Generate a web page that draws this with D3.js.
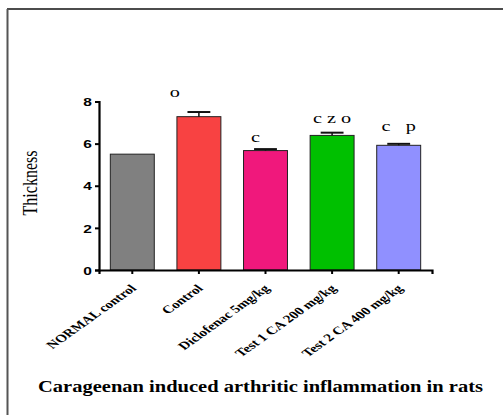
<!DOCTYPE html>
<html>
<head>
<meta charset="utf-8">
<script src="https://cdn.jsdelivr.net/npm/d3@7"></script>
<style>
  body { margin: 0; background: #fff; }
  svg { display: block; }
</style>
</head>
<body>
<svg id="chart"></svg>
<script>
// data
const groups = ["NORMAL control", "Control", "Diclofenac 5mg/kg", "Test 1 CA 200 mg/kg", "Test 2 CA 400 mg/kg"];
const means = [5.5, 7.28, 5.67, 6.39, 5.92];
const sems = [0, 0.22, 0.07, 0.13, 0.07];
const marks = ["", "o", "c", "c z o", "c   p"];
const colors = ["#808080", "#f84242", "#f0187c", "#00c000", "#9090ff"];
const yTicks = [0, 2, 4, 6, 8];

const W = 503, H = 415;
const margin = {top: 101.5, right: 71, bottom: 145, left: 99};
const width = W - margin.left - margin.right,
  height = H - margin.top - margin.bottom;
const SX = 1.35; // the source figure is stretched sideways, so is its text

const serif = "'Liberation Serif', 'Times New Roman', serif";

const svg = d3.select("#chart").attr("width", W).attr("height", H);

// frame lines (top + left only, like the source image)
svg.append("line").attr("x1", 7).attr("x2", W).attr("y1", 9).attr("y2", 9)
  .attr("stroke", "#111").attr("stroke-width", 1.5);
svg.append("line").attr("x1", 7.5).attr("x2", 7.5).attr("y1", 9).attr("y2", H)
  .attr("stroke", "#555").attr("stroke-width", 2);

const g = svg.append("g")
  .attr("transform", "translate(" + margin.left + "," + margin.top + ")");

const x = d3.scaleBand()
  .domain(groups)
  .range([0, width])
  .paddingInner(0.34)
  .paddingOuter(0.17);

const y = d3.scaleLinear()
  .domain([0, 8])
  .range([height, 0]);

// bars
g.selectAll("rect.bar")
  .data(groups)
  .enter()
  .append("rect")
    .attr("class", "bar")
    .attr("x", d => x(d))
    .attr("y", (d, i) => y(means[i]))
    .attr("width", x.bandwidth())
    .attr("height", (d, i) => height - y(means[i]))
    .attr("fill", (d, i) => colors[i])
    .attr("stroke", "#222")
    .attr("stroke-width", 1);

// error bars (upper half only)
const errs = g.selectAll("g.err")
  .data(groups.filter((d, i) => sems[i] > 0))
  .enter()
  .append("g");

const top_ = d => y(means[groups.indexOf(d)] + sems[groups.indexOf(d)]);

errs.append("line")
  .attr("x1", d => x(d) + x.bandwidth() / 2)
  .attr("x2", d => x(d) + x.bandwidth() / 2)
  .attr("y1", d => y(means[groups.indexOf(d)]))
  .attr("y2", top_)
  .attr("stroke", "#111").attr("stroke-width", 1.5);

errs.append("line")
  .attr("x1", d => x(d) + x.bandwidth() * 0.24)
  .attr("x2", d => x(d) + x.bandwidth() * 0.76)
  .attr("y1", top_)
  .attr("y2", top_)
  .attr("stroke", "#111").attr("stroke-width", 2);

// significance letters
const markDx = [0, -24, -10, 0, 0];
const markDy = [0, -15, -7, -10, -13];
g.selectAll("text.mark")
  .data(groups)
  .enter()
  .append("text")
    .attr("transform", (d, i) => "translate(" + (x(d) + x.bandwidth() / 2 + markDx[i]) + "," +
      (y(means[i] + sems[i]) + markDy[i]) + ") scale(" + SX + ",1)")
    .attr("text-anchor", "middle")
    .attr("xml:space", "preserve")
    .style("font-family", serif)
    .style("font-size", "15px")
    .text((d, i) => marks[i]);

// axes
const yAxis = g.append("g")
  .call(d3.axisLeft(y).tickValues(yTicks).tickSize(4));
const xAxis = g.append("g")
  .attr("transform", "translate(0," + height + ")")
  .call(d3.axisBottom(x).tickSize(4));

[xAxis, yAxis].forEach(a => {
  a.select(".domain").attr("stroke", "#000").attr("stroke-width", 2.2);
  a.selectAll(".tick line").attr("stroke", "#000").attr("stroke-width", 2);
});

yAxis.selectAll("text")
  .attr("x", 0)
  .attr("dy", "0.36em")
  .attr("transform", "translate(-7,0) scale(" + SX + ",1)")
  .style("font-family", "'Liberation Sans', Arial, sans-serif")
  .style("font-weight", "bold")
  .style("font-size", "11.5px")
  .attr("fill", "#000");

xAxis.selectAll("text")
  .attr("y", 0)
  .attr("dy", 0)
  .attr("text-anchor", "end")
  .attr("transform", "translate(5,19) scale(1.4,1) rotate(-45)")
  .style("font-family", serif)
  .style("font-weight", "bold")
  .style("font-size", "11px")
  .attr("fill", "#000");

// y axis title
svg.append("text")
  .attr("transform", "translate(37,183) scale(" + SX + ",1) rotate(-90)")
  .attr("text-anchor", "middle")
  .style("font-family", serif)
  .style("font-size", "16px")
  .text("Thickness");

// chart title
svg.append("text")
  .attr("x", 260.5)
  .attr("y", 392)
  .attr("text-anchor", "middle")
  .attr("textLength", 445)
  .attr("lengthAdjust", "spacingAndGlyphs")
  .style("font-family", serif)
  .style("font-weight", "bold")
  .style("font-size", "16.5px")
  .text("Carageenan induced arthritic inflammation in rats");
</script>
</body>
</html>
